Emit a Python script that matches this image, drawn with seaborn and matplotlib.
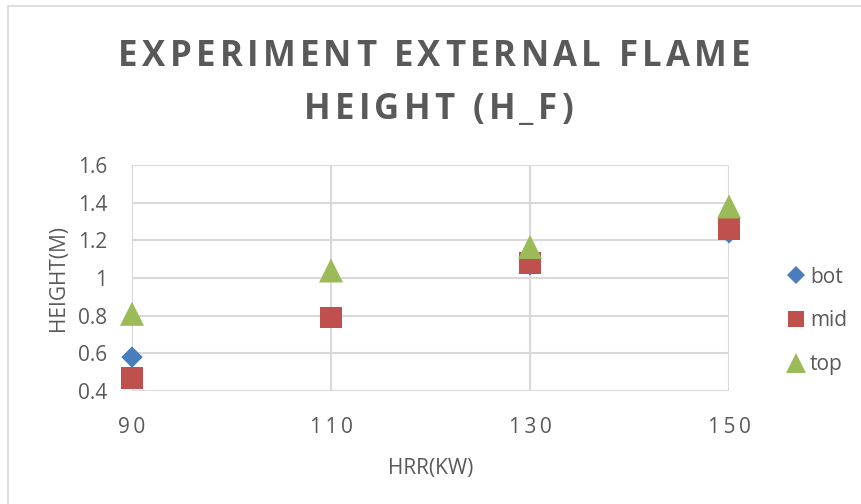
import matplotlib
matplotlib.use("Agg")
import matplotlib.pyplot as plt
from matplotlib.lines import Line2D
import seaborn as sns
import pandas as pd

# Heat release rate (kW) and measured external flame heights (m)
hrr = [90, 110, 130, 150]
bot = [0.58, 0.79, 1.07, 1.24]
mid = [0.47, 0.79, 1.08, 1.26]
top = [0.81, 1.04, 1.165, 1.38]

series_names = ["bot", "mid", "top"]
x_ticks = [90, 110, 130, 150]
y_ticks = [0.4, 0.6, 0.8, 1.0, 1.2, 1.4, 1.6]
y_tick_labels = ["0.4", "0.6", "0.8", "1", "1.2", "1.4", "1.6"]
title_lines = ["EXPERIMENT EXTERNAL FLAME", "HEIGHT (H_F)"]

df = pd.DataFrame({
    "HRR": hrr * 3,
    "Height": bot + mid + top,
    "series": [n for n in series_names for _ in hrr],
})

colors = {"bot": "#4A7EBB", "mid": "#C0504D", "top": "#9BBB59"}
markers = {"bot": "D", "mid": "s", "top": "^"}
sizes = {"bot": 120, "mid": 240, "top": 300}

sns.set_theme(style="white")
plt.rcParams["font.family"] = ["Open Sans", "DejaVu Sans"]
text_color = "#595959"
grid_color = "#D9D9D9"

W, H = 861, 504
fig = plt.figure(figsize=(W / 100, H / 100), dpi=100)
ax = fig.add_axes([132 / W, 1 - 391 / H, (729 - 132) / W, (391 - 165) / H])

for name in series_names:
    sub = df[df["series"] == name]
    sns.scatterplot(data=sub, x="HRR", y="Height", ax=ax, color=colors[name],
                    marker=markers[name], s=sizes[name], edgecolor="none",
                    linewidth=0, legend=False, zorder=3, clip_on=False)

ax.set_xlim(90, 150)
ax.set_ylim(0.4, 1.6)
ax.set_xticks(x_ticks)
# letter-spaced category labels
ax.set_xticklabels(["\u2009".join(str(v)) for v in x_ticks])
ax.set_yticks(y_ticks)
ax.set_yticklabels(y_tick_labels)
ax.grid(True, color=grid_color, linewidth=1.5, zorder=0)
ax.set_axisbelow(True)
for sp in ax.spines.values():
    sp.set_visible(False)
ax.tick_params(axis="both", length=0, colors=text_color, labelsize=15)
ax.tick_params(axis="x", pad=19)
ax.tick_params(axis="y", pad=18)

ax.set_xlabel("HRR(KW)", color=text_color, fontsize=15, labelpad=14)
ax.set_ylabel("HEIGHT(M)", color=text_color, fontsize=15)
ax.yaxis.set_label_coords((69 - 132) / (729 - 132), 0.5)


def tracked_text(x_px, y_px, s, spacing_px, **kw):
    """Draw a centred string with extra space between letters."""
    renderer = fig.canvas.get_renderer()

    def width(t):
        if not t:
            return 0.0
        tmp = fig.text(0, 0, t, **kw)
        w = tmp.get_window_extent(renderer).width
        tmp.remove()
        return w

    total = width(s) + spacing_px * (len(s) - 1)
    x0 = x_px - total / 2
    for i, ch in enumerate(s):
        if ch == " ":
            continue
        left = width(s[:i + 1]) - width(ch) + spacing_px * i
        fig.text((x0 + left) / W, 1 - y_px / H, ch, ha="left", va="baseline", **kw)


title_kw = dict(fontsize=25, fontweight="bold", color=text_color)
tracked_text(W / 2 + 4, 66, title_lines[0], 4.3, **title_kw)
tracked_text(W / 2 + 8, 119, title_lines[1], 4.3, **title_kw)

handles = [Line2D([], [], linestyle="none", marker=markers[n], color=colors[n],
                  markersize={"bot": 9, "mid": 12, "top": 14}[n], markeredgewidth=0)
           for n in series_names]
fig.legend(handles, series_names, loc="center left",
           bbox_to_anchor=(765 / W, 1 - 321 / H), frameon=False,
           fontsize=15, labelcolor=text_color, labelspacing=1.1,
           handletextpad=0.05, handlelength=1.2)

# chart frame
fig.add_artist(Line2D([8 / W, 8 / W], [0, 1 - 6 / H], transform=fig.transFigure,
                      color=grid_color, linewidth=1.2))
fig.add_artist(Line2D([8 / W, 1], [1 - 6 / H, 1 - 6 / H], transform=fig.transFigure,
                      color=grid_color, linewidth=1.2))

fig.savefig("out.png", dpi=100, facecolor="white")
